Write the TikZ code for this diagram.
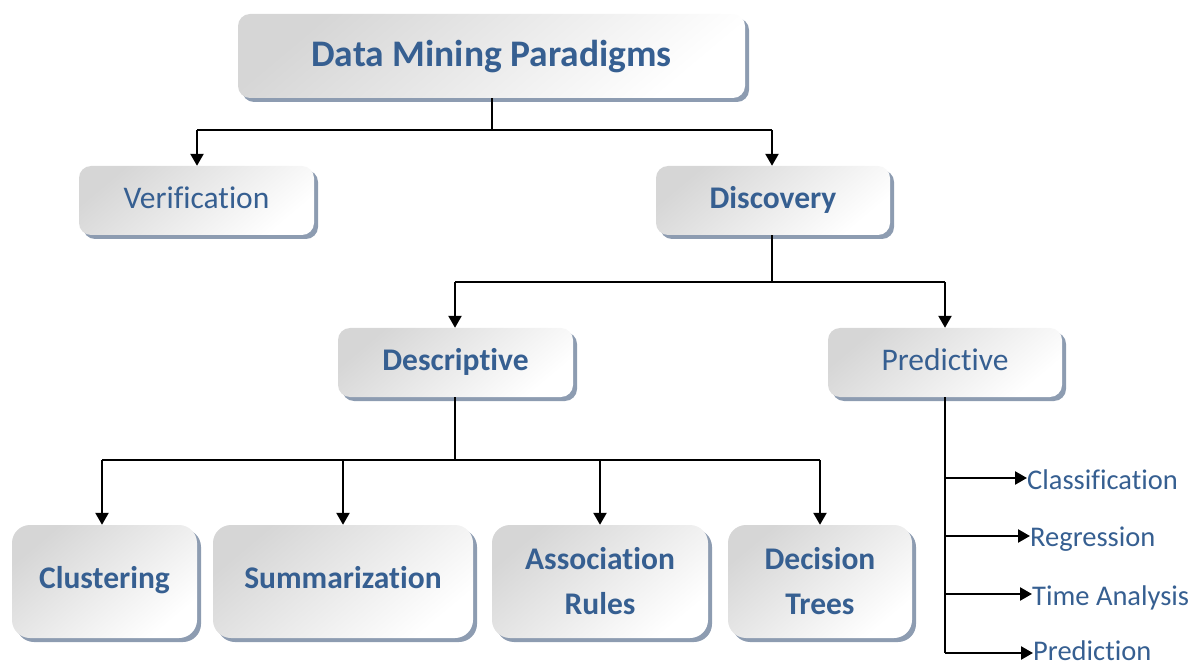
\documentclass[tikz,border=0pt]{standalone}
\usepackage{fontspec}
\setmainfont[RawFeature={-liga;-dlig;-clig}]{Carlito}
\usetikzlibrary{arrows.meta,shadows}
\definecolor{txtblue}{HTML}{365F91}
\definecolor{boxgrey}{HTML}{D6D6D6}
\definecolor{shadowc}{HTML}{8D9CB1}
\tikzset{
  box/.style={rounded corners=12pt, top color=boxgrey, bottom color=white, shading angle=40,
    draw=none, text=txtblue, align=center, inner sep=0pt,
    drop shadow={shadow xshift=4pt, shadow yshift=-4pt, fill=shadowc, opacity=1}},
  bigtxt/.style={font=\fontsize{37.5}{40}\selectfont\bfseries, text height=26pt, text depth=4pt},
  midtxt/.style={font=\fontsize{31.5}{36}\selectfont, text height=22pt, text depth=6pt},
  bmtxt/.style={font=\fontsize{31.5}{36}\selectfont\bfseries, text height=22pt, text depth=6pt},
  bltxt/.style={font=\fontsize{31.5}{45}\selectfont\bfseries},
  bstxt/.style={font=\fontsize{31.5}{45}\selectfont\bfseries, text height=21pt, text depth=8pt},
  leaf/.style={text=txtblue, anchor=west, inner sep=0pt, font=\fontsize{28.5}{32}\selectfont},
  conn/.style={line width=2.4pt},
  arr/.style={line width=2.4pt, -{Triangle[length=12pt,width=13pt]}},
}
\begin{document}
\begin{tikzpicture}[x=1pt,y=-1pt]
\useasboundingbox (0,0) rectangle (1200,668);
\node[box,bigtxt,minimum width=507pt,minimum height=84pt] (top) at (491.5,56) {Data Mining Paradigms};
\node[box,midtxt,minimum width=235pt,minimum height=69pt] (ver) at (196.5,200.5) {Verification};
\node[box,bmtxt,minimum width=234pt,minimum height=69pt] (dis) at (773,200.5) {Discovery};
\node[box,bmtxt,minimum width=235pt,minimum height=69pt] (des) at (455.5,362.5) {Descriptive};
\node[box,midtxt,minimum width=234pt,minimum height=69pt] (pre) at (945,362.5) {Predictive};
\node[box,bstxt,minimum width=185pt,minimum height=113pt,rounded corners=18pt] (clu) at (104.5,581.5) {Clustering};
\node[box,bstxt,minimum width=260pt,minimum height=113pt,rounded corners=18pt] (sum) at (343,581.5) {Summarization};
\node[box,bltxt,minimum width=216pt,minimum height=113pt,rounded corners=18pt] (ass) at (600,581.5) {Association\\Rules};
\node[box,bltxt,minimum width=184pt,minimum height=113pt,rounded corners=18pt] (dec) at (820,581.5) {Decision\\Trees};
\node[leaf] (cla) at (1027,480) {Classification};
\node[leaf] (reg) at (1030,539) {Regression};
\node[leaf] (tim) at (1032,598) {Time Analysis};
\node[leaf] (prd) at (1033,651) {Prediction};
% top level
\coordinate (j1) at (492,130);
\coordinate (j1l) at (197,130);
\coordinate (j1r) at (772,130);
\draw[conn] (j1 |- top.south) -- (j1);
\draw[conn] (j1l) -- (j1r);
\draw[arr] (j1l) -- (j1l |- ver.north);
\draw[arr] (j1r) -- (j1r |- dis.north);
% discovery
\coordinate (j2) at (772,282);
\coordinate (j2l) at (455,282);
\coordinate (j2r) at (945,282);
\draw[conn] (j2 |- dis.south) -- (j2);
\draw[conn] (j2l) -- (j2r);
\draw[arr] (j2l) -- (j2l |- des.north);
\draw[arr] (j2r) -- (j2r |- pre.north);
% descriptive
\coordinate (j3) at (455,460);
\coordinate (k1) at (102,460);
\coordinate (k2) at (343,460);
\coordinate (k3) at (600,460);
\coordinate (k4) at (820,460);
\draw[conn] (j3 |- des.south) -- (j3);
\draw[conn] (k1) -- (k4);
\draw[arr] (k1) -- (k1 |- clu.north);
\draw[arr] (k2) -- (k2 |- sum.north);
\draw[arr] (k3) -- (k3 |- ass.north);
\draw[arr] (k4) -- (k4 |- dec.north);
% predictive
\coordinate (p1) at (945,478);
\coordinate (p2) at (945,536);
\coordinate (p3) at (945,594);
\coordinate (p4) at (945,653);
\draw[conn] (p4 |- pre.south) -- (p4);
\draw[arr] (p1) -- (cla.west |- p1);
\draw[arr] (p2) -- (reg.west |- p2);
\draw[arr] (p3) -- (tim.west |- p3);
\draw[arr] (p4) -- (prd.west |- p4);
\end{tikzpicture}
\end{document}
